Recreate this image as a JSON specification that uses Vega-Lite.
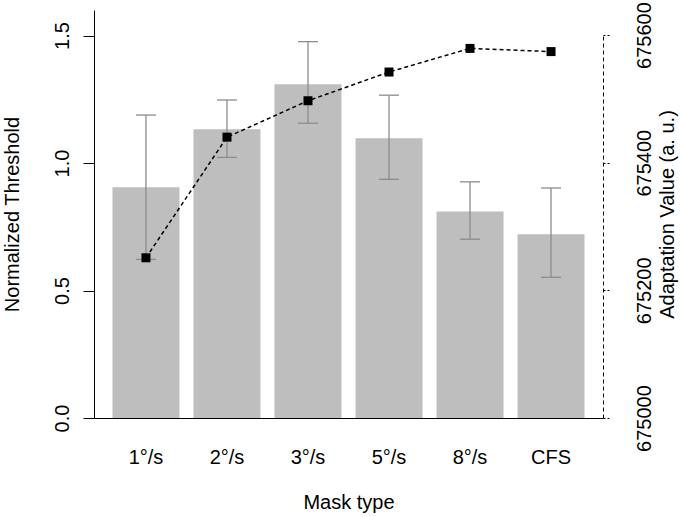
{
  "$schema": "https://vega.github.io/schema/vega-lite/v6.json",
  "width": 509,
  "height": 408,
  "autosize": {"type": "none"},
  "padding": {"left": 94, "top": 10, "right": 77, "bottom": 99},
  "background": "white",
  "config": {
    "view": {"stroke": null},
    "font": "Liberation Sans",
    "axis": {
      "grid": false,
      "labelFont": "Liberation Sans",
      "titleFont": "Liberation Sans",
      "labelFontSize": 20,
      "titleFontSize": 20,
      "titleFontWeight": "normal",
      "labelColor": "#000000",
      "titleColor": "#000000",
      "domainColor": "#000000",
      "tickColor": "#000000",
      "labelOverlap": false,
      "labelBound": false
    }
  },
  "data": {
    "values": [
      {"mask": "1°/s", "mean": 0.905, "lo": 0.622, "hi": 1.188, "adapt": 675251},
      {"mask": "2°/s", "mean": 1.132, "lo": 1.022, "hi": 1.247, "adapt": 675440},
      {"mask": "3°/s", "mean": 1.309, "lo": 1.156, "hi": 1.476, "adapt": 675497},
      {"mask": "5°/s", "mean": 1.097, "lo": 0.936, "hi": 1.266, "adapt": 675542},
      {"mask": "8°/s", "mean": 0.810, "lo": 0.701, "hi": 0.926, "adapt": 675579},
      {"mask": "CFS", "mean": 0.721, "lo": 0.552, "hi": 0.902, "adapt": 675574}
    ]
  },
  "encoding": {
    "x": {
      "field": "mask",
      "type": "nominal",
      "sort": null,
      "scale": {"paddingInner": 0.173, "paddingOuter": 0.228},
      "axis": {
        "title": "Mask type",
        "labelAngle": 0,
        "ticks": false,
        "tickSize": 0,
        "labelPadding": 45,
        "labelBaseline": "alphabetic",
        "titleY": 90,
        "titleBaseline": "alphabetic",
        "domainColor": "#000000"
      }
    }
  },
  "layer": [
    {
      "layer": [
        {
          "mark": {"type": "bar", "color": "#bebebe"},
          "encoding": {
            "y": {
              "field": "mean",
              "type": "quantitative",
              "scale": {"domain": [0, 1.6], "nice": false, "zero": true},
              "axis": {
                "values": [0, 0.5, 1, 1.5],
                "format": ".1f",
                "labelAngle": -90,
                "labelAlign": "center",
                "labelBaseline": "alphabetic",
                "tickSize": 11,
                "labelPadding": 15,
                "title": "Normalized Threshold",
                "titleAngle": -90,
                "titleAlign": "center",
                "titleBaseline": "alphabetic",
                "titleX": -76,
                "titleY": 204
              }
            }
          }
        },
        {
          "mark": {"type": "rule", "color": "#8c8c8c", "strokeWidth": 1.3},
          "encoding": {
            "y": {"field": "lo", "type": "quantitative"},
            "y2": {"field": "hi"}
          }
        },
        {
          "mark": {"type": "tick", "color": "#8c8c8c", "size": 20, "thickness": 1.3, "opacity": 1},
          "encoding": {"y": {"field": "lo", "type": "quantitative"}}
        },
        {
          "mark": {"type": "tick", "color": "#8c8c8c", "size": 20, "thickness": 1.3, "opacity": 1},
          "encoding": {"y": {"field": "hi", "type": "quantitative"}}
        }
      ]
    },
    {
      "encoding": {
        "y": {
          "field": "adapt",
          "type": "quantitative",
          "scale": {"domain": [675000, 675600], "range": [408, 25], "nice": false, "zero": false},
          "axis": {
            "orient": "right",
            "values": [675000, 675200, 675400, 675600],
            "format": "d",
            "domainDash": [4, 3],
            "tickDash": [2, 2],
            "tickSize": 8,
            "labelAngle": -90,
            "labelAlign": "center",
            "labelBaseline": "alphabetic",
            "labelPadding": 39,
            "title": "Adaptation Value (a. u.)",
            "titleAngle": -90,
            "titleAlign": "center",
            "titleBaseline": "alphabetic",
            "titleX": 70,
            "titleY": 204
          }
        }
      },
      "layer": [
        {
          "mark": {"type": "line", "color": "#000000", "strokeDash": [4, 3], "strokeWidth": 1.5}
        },
        {
          "mark": {"type": "point", "shape": "square", "filled": true, "color": "#000000", "size": 81, "opacity": 1}
        }
      ]
    }
  ],
  "resolve": {"scale": {"y": "independent"}}
}
